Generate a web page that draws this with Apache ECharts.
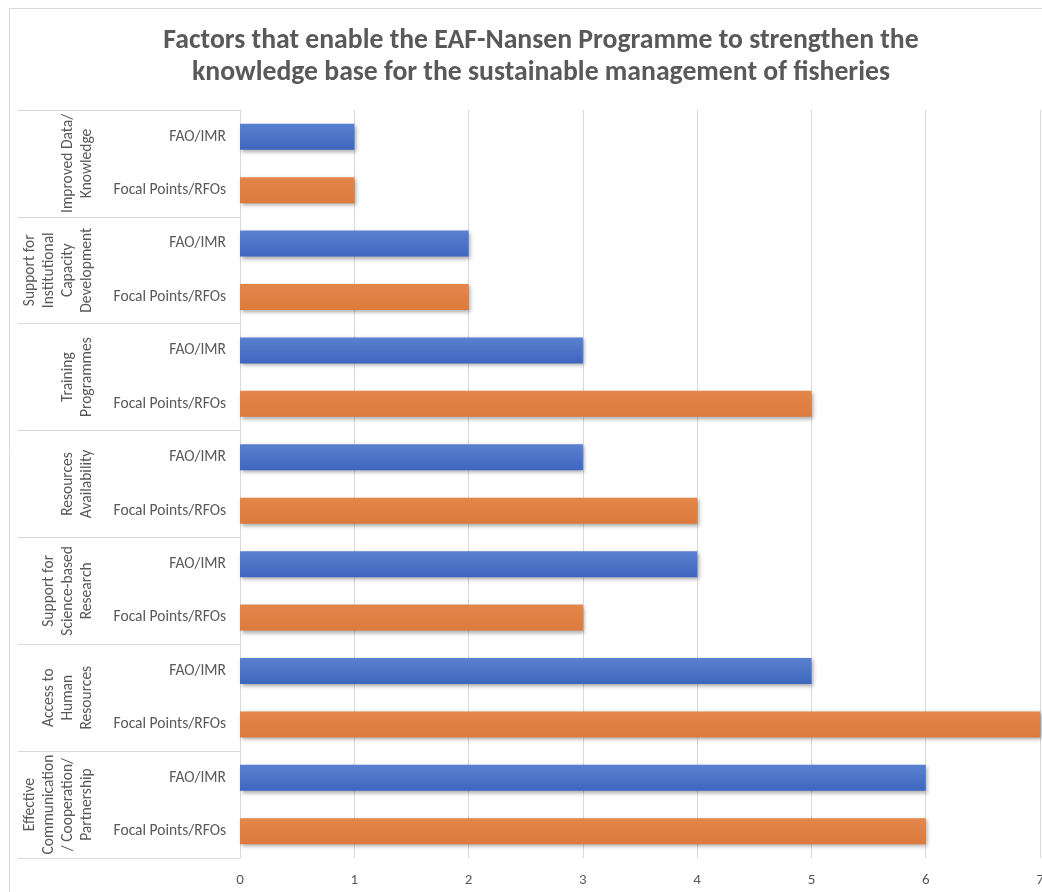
<!DOCTYPE html>
<html>
<head>
<meta charset="utf-8">
<style>
  html, body { margin: 0; padding: 0; background: #ffffff; }
  #chart { width: 1042px; height: 892px; }
</style>
<script src="https://cdn.jsdelivr.net/npm/echarts@6/dist/echarts.min.js"></script>
</head>
<body>
<div id="chart"></div>
<script>
// Enabling factors, listed top to bottom
const groups = [
  'Improved Data/\nKnowledge',
  'Support for\nInstitutional\nCapacity\nDevelopment',
  'Training\nProgrammes',
  'Resources\nAvailability',
  'Support for\nScience-based\nResearch',
  'Access to\nHuman\nResources',
  'Effective\nCommunication\n/ Cooperation/\nPartnership'
];
const respondents = ['FAO/IMR', 'Focal Points/RFOs'];
const faoImr = [1, 2, 3, 3, 4, 5, 6];
const focalPoints = [1, 2, 5, 4, 3, 7, 6];
const xTicks = [0, 1, 2, 3, 4, 5, 6, 7];

const FONT = 'Carlito, Calibri, "Open Sans", sans-serif';
const TEXT = '#595959';
const GRID = '#d9d9d9';

// One row per respondent inside each factor group
const rows = [];
const faoRow = [];
const focalRow = [];
groups.forEach((g, i) => {
  rows.push(respondents[0]);
  rows.push(respondents[1]);
  faoRow.push(faoImr[i], '-');
  focalRow.push('-', focalPoints[i]);
});

function barStyle(top, bottom) {
  return {
    color: new echarts.graphic.LinearGradient(0, 0, 0, 1, [
      { offset: 0, color: top },
      { offset: 1, color: bottom }
    ]),
    shadowColor: 'rgba(0,0,0,0.35)',
    shadowBlur: 4,
    shadowOffsetX: 1.5,
    shadowOffsetY: 2
  };
}

const chart = echarts.init(document.getElementById('chart'), null, { renderer: 'canvas' });
chart.setOption({
  backgroundColor: '#ffffff',
  animation: false,
  title: {
    text: 'Factors that enable the EAF-Nansen Programme to strengthen the\nknowledge base for the sustainable management of fisheries',
    left: 536,
    top: 20,
    textAlign: 'center',
    textStyle: {
      fontFamily: FONT,
      fontSize: 27.7,
      fontWeight: 'bold',
      color: TEXT,
      lineHeight: 32,
      align: 'center'
    }
  },
  graphic: [{
    type: 'rect',
    shape: { x: 9.5, y: 8.5, width: 1100, height: 1000 },
    style: { fill: 'none', stroke: GRID, lineWidth: 1 },
    silent: true,
    z: -1
  }],
  grid: {
    left: 240, right: 2, top: 110, bottom: 34,
    containLabel: false,
    outerBoundsMode: 'none'
  },
  xAxis: {
    type: 'value',
    min: xTicks[0],
    max: xTicks[xTicks.length - 1],
    interval: 1,
    axisLine: { show: false },
    axisTick: { show: false },
    splitLine: { show: true, lineStyle: { color: GRID, width: 1 } },
    axisLabel: {
      color: TEXT,
      fontFamily: FONT,
      fontSize: 15,
      margin: 15,
      formatter: v => String(v)
    }
  },
  yAxis: [
    {
      type: 'category',
      data: rows,
      inverse: true,
      position: 'left',
      axisLine: { show: true, lineStyle: { color: GRID, width: 1 } },
      axisTick: { show: false },
      axisLabel: {
        interval: 0,
        color: TEXT,
        fontFamily: FONT,
        fontSize: 15.5,
        margin: 14
      }
    },
    {
      // group separators of the factor column
      type: 'category',
      data: groups,
      inverse: true,
      position: 'left',
      offset: 222,
      axisLine: { show: false },
      axisTick: {
        show: true,
        inside: true,
        length: 222,
        interval: 0,
        lineStyle: { color: GRID, width: 1 }
      },
      axisLabel: { show: false },
      splitLine: { show: false }
    },
    {
      // rotated factor names
      type: 'category',
      data: groups,
      inverse: true,
      position: 'left',
      offset: 143,
      axisLine: { show: false },
      axisTick: { show: false },
      axisLabel: {
        interval: 0,
        rotate: 90,
        margin: 0,
        color: TEXT,
        fontFamily: FONT,
        fontSize: 15.5,
        lineHeight: 19,
        align: 'center'
      },
      splitLine: { show: false }
    }
  ],
  series: [
    {
      name: respondents[0],
      type: 'bar',
      yAxisIndex: 0,
      data: faoRow,
      barWidth: 26,
      barGap: '-100%',
      itemStyle: barStyle('#5a81cf', '#3d66bf')
    },
    {
      name: respondents[1],
      type: 'bar',
      yAxisIndex: 0,
      data: focalRow,
      barWidth: 26,
      barGap: '-100%',
      itemStyle: barStyle('#e3864a', '#dc7b3c')
    }
  ]
});
</script>
</body>
</html>
